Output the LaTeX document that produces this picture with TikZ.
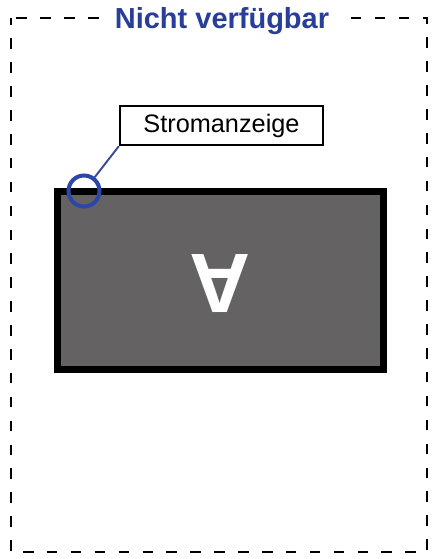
\documentclass[tikz,border=0pt]{standalone}
\usepackage{fontspec}
\setmainfont{Liberation Sans}
\usepackage{tikz}
\usetikzlibrary{positioning}
\definecolor{titleblue}{RGB}{40,62,152}
\definecolor{ringblue}{RGB}{45,70,170}
\definecolor{panelgray}{RGB}{100,98,98}
\tikzset{>=stealth}

\begin{document}
\begin{tikzpicture}[x=0.02cm,y=-0.02cm]
    \useasboundingbox (0,0) rectangle (432,559);
    % set up the frame and the panel
    \draw[line width=1.6pt,dash pattern=on 6pt off 7.6pt,dash phase=2pt] (11,18) rectangle (427,552);
    \node[draw=black,line width=3.8pt,fill=panelgray,minimum width=333*0.02cm-3.8pt,minimum height=185*0.02cm-3.8pt,inner sep=0pt] (P) at (220.5,280.5) {};
    \node[rotate=180,text=white,font=\bfseries\fontsize{48}{48}\selectfont,inner sep=0pt] (A) at (220,284) {A};
    % set up the labels
    \node[fill=white,text=titleblue,font=\bfseries\fontsize{16.5}{18}\selectfont,inner xsep=7pt,inner ysep=2pt] (T) at (222,21) {Nicht verfügbar};
    \node[draw=black,line width=1.3pt,fill=white,font=\fontsize{14.4}{16}\selectfont,minimum width=203*0.02cm,minimum height=39*0.02cm] (S) at (221.5,125.5) {Stromanzeige};
    \node[draw=ringblue,line width=2.3pt,circle,minimum size=31*0.02cm,inner sep=0pt] (L) at (84,191) {};
    % draw the connector
    \draw[titleblue!80!gray,line width=1.1pt] (S.south west)--(L);
\end{tikzpicture}
\end{document}
